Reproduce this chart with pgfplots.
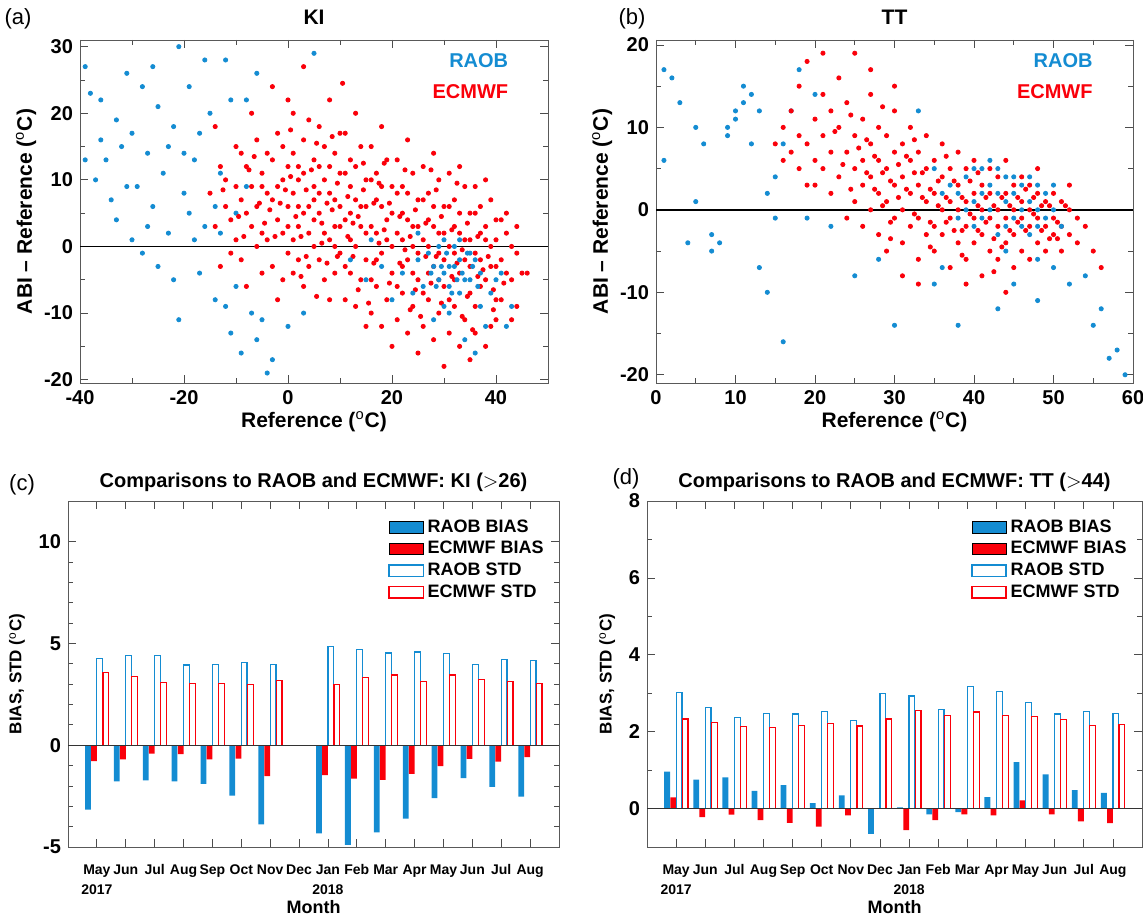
\documentclass[border=0pt]{standalone}
\usepackage{pgfplots}
\pgfplotsset{compat=1.18}
\usepackage{fontspec}
\setmainfont{Liberation Sans}
\definecolor{rb}{RGB}{20,140,210}
\definecolor{er}{RGB}{250,0,10}
\pgfplotsset{
 base/.style={scale only axis, anchor=south west, tick align=inside, ticklabel style={font=\bfseries\fontsize{10}{11}\selectfont},
   /pgf/number format/assume math mode=true, label style={font=\bfseries\fontsize{10.5}{12}\selectfont},
   title style={font=\bfseries\fontsize{10.5}{12}\selectfont}, axis line style={gray!70!black}, major tick length=4pt, minor tick length=2.5pt,
   every tick/.style={gray!60!black}},
 sc/.style={only marks, mark=*, mark size=1.05pt},
 bb/.style={ybar, bar width=0.2, fill=rb, draw=none, area legend},
 be/.style={ybar, bar width=0.2, fill=er, draw=none, area legend},
 sb/.style={ybar, bar width=0.2, fill=white, draw=rb, line width=0.6pt, area legend},
 se/.style={ybar, bar width=0.2, fill=white, draw=er, line width=0.6pt, area legend},
 bars/.style={base, xmin=-1, xmax=16, xtick={0,...,15}, xlabel={Month},
   xticklabels={May,Jun,Jul,Aug,Sep,Oct,Nov,Dec,Jan,Feb,Mar,Apr,May,Jun,Jul,Aug},
   xticklabel style={font=\bfseries\fontsize{7}{8.5}\selectfont, anchor=north, text height=1.6ex, text depth=0.3ex, yshift=-2pt},
   extra x ticks={0,8}, extra x tick labels={2017,2018},
   extra x tick style={major tick length=0pt, xticklabel style={yshift=-10pt}},
   xlabel style={at={(axis description cs:0.5,0)}, anchor=north, yshift=-23pt, font=\bfseries\fontsize{9}{10}\selectfont},
   ylabel={BIAS, STD ($^{\mathrm{o}}$C)}, ylabel style={font=\bfseries\fontsize{8.5}{10}\selectfont},
   title style={yshift=-5pt, font=\bfseries\fontsize{10}{11}\selectfont},
   legend style={draw=none, fill=none, at={(0.99,0.97)}, anchor=north east, font=\bfseries\fontsize{9}{10}\selectfont, row sep=-1pt},
   legend cell align=left,
   legend image code/.code={\fill[#1] (0cm,-0.09cm) rectangle (0.55cm,0.09cm);}}
}
\begin{document}
\begin{tikzpicture}[x=1pt,y=1pt]
\useasboundingbox (0,0) rectangle (571.5,458.5);
\node[font=\fontsize{11}{12}\selectfont] at (9,449) {(a)};
\node[font=\fontsize{11}{12}\selectfont] at (316,449) {(b)};
\node[font=\fontsize{11}{12}\selectfont] at (11,216) {(c)};
\node[font=\fontsize{11}{12}\selectfont] at (313,219) {(d)};
% ---------------- (a) KI
\begin{axis}[base, at={(40pt,267pt)}, width=234pt, height=171.5pt, xmin=-40, xmax=50, ymin=-20.5, ymax=31,
 xtick={-40,-20,0,20,40}, ytick={-20,-10,0,10,20,30}, minor x tick num=1, minor y tick num=1,
 title={KI}, title style={yshift=-2pt},
 xlabel={Reference ($^{\mathrm{o}}$C)}, ylabel={ABI -- Reference ($^{\mathrm{o}}$C)}, xlabel style={yshift=3pt}, ylabel style={yshift=-3pt}]
\addplot[sc, rb] coordinates {(-38,23)(-36,22)(-35,13)(-33,4)(-31,26)(-30,17)(-29,9)(-28,-1)(-27,14)(-26,6)(-25,21)(-24,11)(-23,2)(-22,18)(-21,-11)(-20,8)(-19,24)(-18,13)(-17,-4)(-16,3)(-15,20)(-14,-8)(-13,11)(-12,28)(-11,-13)(-10,5)(-9,-16)(-8,22)(-7,-10)(-6,26)(-37,10)(-34,7)(-32,15)(-28,24)(-25,-3)(-20,14)(-18,1)(-16,28)(-14,6)(-10,-6)(-6,-14)(-3,-17)(0,-12)(3,-10)(5,29)(-30,1)(-39,27)(-36,16)(-33,19)(-31,9)(-27,3)(-26,27)(-23,15)(-22,-5)(-19,5)(-17,17)(-13,2)(-12,-9)(-8,9)(-5,-11)(-39,13)(-21,30)(-11,22)(-4,-19)(2,-21)};
\addplot[sc, er] coordinates {(-15,8)(-14,3)(-13,12)(-12,6)(-11,-1)(-10,15)(-14,18)(-12,10)(-11,4)(-10,9)(-13,-3)(-10,1)
(-9,7)(-8,12)(-7,3)(-6,16)(-5,9)(-9,-2)(-8,5)(-7,20)(-6,0)(-5,11)(-8,-6)(-6,6)(-5,2)(-7,9)(-9,14)(-5,-4)
(-4,8)(-3,13)(-2,4)(-1,10)(0,6)(-4,1)(-3,-3)(-2,17)(-1,2)(0,12)(-3,7)(-1,-5)(0,22)(-2,9)(-4,14)(0,-1)(-1,15)(-3,24)(0,3)(-2,-8)
(1,8)(2,3)(3,11)(4,6)(5,0)(1,14)(2,-2)(3,5)(4,19)(5,9)(1,1)(2,10)(3,-6)(4,2)(5,13)(1,20)(3,27)(2,6)(4,-3)(5,4)(1,-4)(3,16)(5,7)(2,12)
(6,5)(7,10)(8,1)(9,7)(10,3)(6,-2)(7,15)(8,8)(9,-4)(10,11)(6,12)(7,2)(8,-8)(9,14)(10,-1)(6,18)(8,22)(9,3)(10,6)(7,-5)(6,8)(8,12)(10,17)(9,0)
(11,4)(12,9)(13,0)(14,6)(15,2)(11,-3)(12,13)(13,7)(14,-5)(15,10)(11,11)(12,1)(13,-9)(14,15)(15,-2)(11,17)(13,20)(12,5)(14,3)(15,6)(11,-8)(13,12)(15,-12)(12,-4)
(16,3)(17,7)(18,-1)(19,4)(20,0)(16,-5)(17,11)(18,6)(19,-8)(20,9)(16,10)(17,-2)(18,-12)(19,13)(20,-4)(16,15)(18,18)(17,2)(19,1)(20,5)(16,-10)(18,9)(20,-15)(17,-6)
(21,2)(22,5)(23,-2)(24,3)(25,-1)(21,-6)(22,9)(23,4)(24,-9)(25,7)(21,8)(22,-3)(23,-13)(24,11)(25,-5)(21,13)(23,16)(22,1)(24,0)(25,3)(21,-11)(23,8)(25,-16)(22,-7)(24,-4)
(26,1)(27,4)(28,-3)(29,2)(30,-2)(26,-7)(27,8)(28,3)(29,-10)(30,6)(26,7)(27,-4)(28,-14)(29,10)(30,-6)(26,12)(28,14)(27,0)(29,-1)(30,2)(26,-12)(28,6)(30,-18)(27,-8)(29,-5)
(31,0)(32,3)(33,-4)(34,1)(35,-3)(31,-8)(32,7)(33,2)(34,-11)(35,5)(31,6)(32,-5)(33,-15)(34,9)(35,-7)(31,11)(33,12)(32,-1)(34,-2)(35,1)(31,-13)(33,5)(35,-17)(32,-9)
(36,-1)(37,2)(38,-5)(39,0)(40,-3)(36,-9)(37,6)(38,1)(39,-12)(40,4)(36,5)(37,-6)(38,-15)(39,7)(40,-8)(36,9)(38,10)(37,-2)(39,-3)(40,1)(36,-13)(38,3)(40,-11)
(41,-2)(42,2)(43,-5)(44,-1)(45,-4)(41,-8)(42,5)(43,0)(44,-9)(41,4)(42,-4)(43,-11)(46,-4)(44,3)
(-3.5,5.5)(-0.5,8.5)(2.5,1.5)(4.5,11.5)(7.5,6.5)(9.5,-1.5)(12.5,3.5)(14.5,8.5)(17.5,0.5)(19.5,6.5)(22.5,-0.5)(24.5,5.5)(27.5,-5.5)(29.5,4.5)(32.5,-2.5)(34.5,3.5)(37.5,-3.5)(39.5,-6.5)(1.5,4.5)(6.5,0.5)(11.5,7.5)(16.5,-2.5)(21.5,4.5)(26.5,-1.5)(31.5,2.5)(36.5,-4.5)(8.5,16.5)(13.5,-6.5)(18.5,12.5)(23.5,-9.5)(28.5,8.5)(33.5,-10.5)(3.5,-1.5)(-6.5,13.5)(0.5,17.5)(10.5,24.5)(5.5,-7.5)(15.5,-8.5)(25.5,-10.5)(35.5,-12.5)
(-12.5,8.5)(-9.5,4.5)(-7.5,11.5)(-4.5,3.5)(-1.5,6.5)(0.5,10.5)(3.5,8.5)(6.5,3.5)(8.5,5.5)(11.5,1.5)(13.5,4.5)(16.5,6.5)(18.5,2.5)(21.5,-2.5)(23.5,1.5)(26.5,3.5)(28.5,-1.5)(31.5,-4.5)(33.5,-0.5)(36.5,1.5)(38.5,-1.5)(41.5,-5.5)(5.5,15.5)(9.5,9.5)(14.5,12.5)(19.5,-5.5)(24.5,-6.5)(29.5,-8.5)(34.5,-7.5)(39.5,-9.5)(-5.5,6.5)(2.5,-4.5)(7.5,-2.5)(12.5,-1.5)(17.5,9.5)(22.5,11.5)(27.5,11.5)(32.5,9.5)(-8.5,1.5)(-2.5,1.5)};
\addplot[sc, rb] coordinates {(27,-1)(29,-5)(31,-3)(33,-7)(35,-1)(37,-4)(30,-9)(32,0)(34,-5)(28,-3)(33,-2)(31,-6)(35,-5)(29,0)(36,-2)(26,-6)(39,-7)(41,-4)(43,-9)(25,-2)(38,-12)(34,-14)(30,-4)(32,-3)(30.5,-1)(31.5,-7)(33.5,-4)(29.5,-3)(28.5,-6)(32.5,-5)(34.5,-1)(36.5,-6)(35.5,-3)(27.5,-4)(30,1)(33,1)(31,-10)(37,-9)(40,-5)(24,-7)(22,-4)(20,-8)(18,-3)(15,-5)(12,-2)(16,1)(25,2)(36,-16)(42,-12)(28,-11)};
\addplot[black, line width=0.7pt] coordinates {(-40,0)(50,0)};
\node[font=\bfseries\fontsize{10}{11}\selectfont, text=rb, anchor=north east] at (rel axis cs:0.93,0.98) {RAOB};
\node[font=\bfseries\fontsize{10}{11}\selectfont, text=er, anchor=north east] at (rel axis cs:0.93,0.89) {ECMWF};
\end{axis}
% ---------------- (b) TT
\begin{axis}[base, at={(328pt,267pt)}, width=238.5pt, height=171.5pt, xmin=0, xmax=60, ymin=-21, ymax=20.6,
 xtick={0,10,20,30,40,50,60}, ytick={-20,-10,0,10,20}, minor x tick num=1, minor y tick num=1,
 title={TT}, title style={yshift=-2pt},
 xlabel={Reference ($^{\mathrm{o}}$C)}, ylabel={ABI -- Reference ($^{\mathrm{o}}$C)}, xlabel style={yshift=3pt}, ylabel style={yshift=-3pt}]
\addplot[sc, rb] coordinates {(1,17)(1,6)(3,13)(4,-4)(5,1)(5,10)(6,8)(7,-5)(8,-4)(9,9)(10,11)(10,12)(11,15)(12,14)(12,8)(13,12)(14,-10)(15,4)(16,-16)(13,-7)(18,17)(2,16)(7,-3)(11,13)(9,10)(14,2)(16,8)(17,12)(15,-1)(19,-1)(20,14)(55,-14)(57,-18)(58,-17)(59,-20)(56,-12)(30,-14)(38,-14)(43,-12)(48,-11)(25,-8)(52,-9)(54,-8)(45,-9)(35,-9)(22,-2)(28,-6)(33,12)(36,-7)(50,-7)};
\addplot[sc, er] coordinates {(15,8)(16,6)(16,10)(17,7)(17,12)(18,5)(18,9)(18,15)(19,8)(19,18)(20,6)(20,11)(20,3)(21,9)(21,14)(21,5)(22,7)(22,12)(22,2)(23,10)(23,16)(23,4)(24,7)(24,-1)(24,13)(25,5)(25,9)(25,1)(25,19)(26,6)(26,3)(26,11)(26,-2)(27,4)(27,8)(27,0)(27,14)(28,2)(28,6)(28,-3)(28,10)(29,5)(29,1)(29,9)(29,-5)(30,3)(30,7)(30,-1)(30,12)(31,4)(31,0)(31,8)(31,-4)(32,2)(32,6)(32,-2)(32,10)(33,3)(33,-1)(33,7)(33,-6)(34,1)(34,5)(34,-3)(34,9)(35,2)(35,-2)(35,6)(35,-5)(36,0)(36,4)(36,-3)(36,8)(37,1)(37,-1)(37,5)(37,-7)(38,0)(38,3)(38,-4)(38,7)(39,1)(39,-2)(39,5)(39,-6)(40,-1)(40,2)(40,-4)(40,6)(41,0)(41,3)(41,-3)(41,-8)(42,-1)(42,2)(42,-5)(42,5)(43,0)(43,-2)(43,4)(43,-6)(44,-1)(44,2)(44,-4)(44,6)(45,0)(45,-3)(45,3)(45,-7)(46,-1)(46,1)(46,-5)(46,4)(47,0)(47,-2)(47,3)(47,-6)(48,-1)(48,2)(48,-4)(48,5)(49,-2)(49,1)(49,-5)(50,-1)(50,2)(50,-3)(51,-2)(51,1)(51,-5)(52,0)(52,-3)(52,3)(53,-1)(53,-4)(54,-2)(55,-5)(56,-7)
(23.5,5.5)(24.5,2.5)(26.5,8.5)(27.5,2.5)(28.5,4.5)(29.5,-1.5)(30.5,5.5)(31.5,2.5)(32.5,-0.5)(33.5,4.5)(34.5,-1.5)(35.5,3.5)(36.5,1.5)(37.5,-2.5)(38.5,1.5)(39.5,3.5)(40.5,-2.5)(41.5,1.5)(42.5,-3.5)(43.5,1.5)(44.5,-2.5)(45.5,1.5)(46.5,-2.5)(47.5,1.5)(48.5,-2.5)(49.5,0.5)(50.5,-3.5)(51.5,0.5)(30,15)(27,17)(21,19)(19,3)(33,-9)(39,-9)(44,-10)(31,-8)
(25.5,7.5)(26.5,4.5)(27.5,6.5)(28.5,0.5)(29.5,3.5)(30.5,1.5)(31.5,6.5)(32.5,4.5)(33.5,1.5)(34.5,2.5)(35.5,0.5)(36.5,-1.5)(37.5,3.5)(38.5,-2.5)(39.5,-0.5)(40.5,0.5)(41.5,-1.5)(42.5,0.5)(43.5,-4.5)(44.5,0.5)(45.5,-1.5)(46.5,2.5)(47.5,-0.5)(48.5,0.5)(49.5,-3.5)(50.5,-1.5)(22.5,9.5)(24.5,11.5)(28.5,12.5)(32.5,8.5)(36.5,6.5)(40.5,4.5)(29.5,-3.5)(34.5,-4.5)(38.5,-5.5)(42.5,-7.5)};
\addplot[sc, rb] coordinates {(38,2)(39,4)(40,1)(40,5)(41,2)(41,-1)(42,3)(42,0)(43,2)(43,5)(44,1)(44,-2)(45,2)(45,4)(46,0)(46,3)(47,1)(47,-3)(48,0)(48,3)(49,2)(49,-1)(50,0)(36,2)(37,3)(39,0)(42,6)(44,4)(46,-2)(43,-3)(41,5)(45,-1)(47,4)(48,-2)(40,-2)(50,3)(51,-2)(35,5)(38,-1)(44,-5)(48,-6)};
\addplot[black, line width=0.7pt] coordinates {(0,0)(60,0)};
\node[font=\bfseries\fontsize{10}{11}\selectfont, text=rb, anchor=north east] at (rel axis cs:0.93,0.98) {RAOB};
\node[font=\bfseries\fontsize{10}{11}\selectfont, text=er, anchor=north east] at (rel axis cs:0.93,0.89) {ECMWF};
\end{axis}
% ---------------- (c)
\begin{axis}[bars, at={(34pt,35pt)}, width=245.5pt, height=173pt, ymin=-5, ymax=12,
 ytick={-5,0,5,10}, minor y tick num=4, title={Comparisons to RAOB and ECMWF: KI ($>$26)}]
\addplot[bb, bar shift=-0.31] coordinates {(0,-3.16)(1,-1.78)(2,-1.72)(3,-1.78)(4,-1.9)(5,-2.48)(6,-3.89)(8,-4.33)(9,-4.9)(10,-4.28)(11,-3.6)(12,-2.6)(13,-1.62)(14,-2.05)(15,-2.52)};
\addplot[be, bar shift=-0.1] coordinates {(0,-0.78)(1,-0.69)(2,-0.41)(3,-0.44)(4,-0.69)(5,-0.66)(6,-1.52)(8,-1.47)(9,-1.64)(10,-1.7)(11,-1.41)(12,-1.02)(13,-0.67)(14,-0.81)(15,-0.58)};
\addplot[sb, bar shift=0.1] coordinates {(0,4.27)(1,4.39)(2,4.42)(3,3.94)(4,3.97)(5,4.05)(6,3.98)(8,4.86)(9,4.7)(10,4.53)(11,4.58)(12,4.5)(13,3.97)(14,4.22)(15,4.17)};
\addplot[se, bar shift=0.31] coordinates {(0,3.56)(1,3.36)(2,3.09)(3,3.02)(4,3.02)(5,2.97)(6,3.19)(8,2.97)(9,3.31)(10,3.45)(11,3.14)(12,3.45)(13,3.22)(14,3.12)(15,3.05)};
\addplot[gray!40!black, line width=0.6pt, forget plot] coordinates {(-1,0)(16,0)};
\legend{RAOB BIAS, ECMWF BIAS, RAOB STD, ECMWF STD}
\end{axis}
% ---------------- (d)
\begin{axis}[bars, at={(323.5pt,35pt)}, width=247.5pt, height=173pt, ymin=-1, ymax=8,
 ytick={0,2,4,6,8}, minor y tick num=1, title={Comparisons to RAOB and ECMWF: TT ($>$44)}]
\addplot[bb, bar shift=-0.31] coordinates {(0,0.96)(1,0.75)(2,0.81)(3,0.46)(4,0.61)(5,0.14)(6,0.34)(7,-0.66)(8,0.03)(9,-0.15)(10,-0.09)(11,0.3)(12,1.21)(13,0.89)(14,0.48)(15,0.41)};
\addplot[be, bar shift=-0.1] coordinates {(0,0.29)(1,-0.22)(2,-0.16)(3,-0.3)(4,-0.37)(5,-0.47)(6,-0.18)(8,-0.56)(9,-0.3)(10,-0.15)(11,-0.18)(12,0.21)(13,-0.15)(14,-0.33)(15,-0.38)};
\addplot[sb, bar shift=0.1] coordinates {(0,3.02)(1,2.62)(2,2.37)(3,2.48)(4,2.46)(5,2.52)(6,2.29)(7,2.99)(8,2.93)(9,2.57)(10,3.18)(11,3.04)(12,2.76)(13,2.46)(14,2.52)(15,2.48)};
\addplot[se, bar shift=0.31] coordinates {(0,2.33)(1,2.23)(2,2.13)(3,2.11)(4,2.17)(5,2.22)(6,2.15)(7,2.33)(8,2.55)(9,2.42)(10,2.51)(11,2.43)(12,2.39)(13,2.32)(14,2.16)(15,2.19)};
\addplot[gray!40!black, line width=0.6pt, forget plot] coordinates {(-1,0)(16,0)};
\legend{RAOB BIAS, ECMWF BIAS, RAOB STD, ECMWF STD}
\end{axis}
\end{tikzpicture}
\end{document}
